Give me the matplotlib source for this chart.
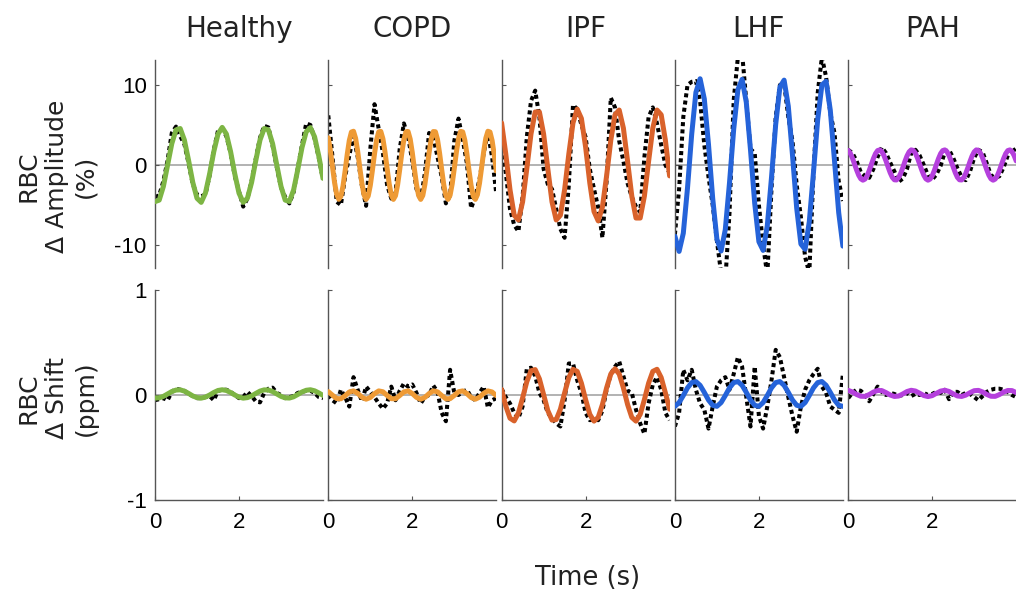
import numpy as np
import matplotlib
matplotlib.use("Agg")
import matplotlib.pyplot as plt

# ---------------- data ----------------
groups = ["Healthy", "COPD", "IPF", "LHF", "PAH"]
colors = ["#7db544", "#ee9a35", "#d9622b", "#2563d9", "#b540dd"]

# RBC amplitude (%) : fitted curves
healthy_amp_fit = [-4.58, -4.39, -2.67, 0.00, 2.67, 4.39, 4.56, 3.12, 0.56, -2.18,
                   -4.16, -4.67, -3.52, -1.12, 1.67, 3.87, 4.70, 3.87, 1.67, -1.12,
                   -3.52, -4.67, -4.16, -2.18, 0.56, 3.12, 4.56, 4.39, 2.67, 0.00,
                   -2.67, -4.39, -4.56, -3.12, -0.56, 2.18, 4.16, 4.67, 3.52, 1.12,
                   -1.67]
copd_amp_fit = [3.40, 1.78, -0.25, -2.22, -3.69, -4.29, -3.91, -2.63, -0.75, 1.31,
                3.07, 4.12, 4.22, 3.35, 1.70, -0.33, -2.29, -3.72, -4.30, -3.88,
                -2.56, -0.67, 1.39, 3.13, 4.14, 4.20, 3.29, 1.63, -0.42, -2.36,
                -3.77, -4.30, -3.84, -2.49, -0.58, 1.47, 3.19, 4.16, 4.18, 3.24,
                1.55, -0.50, -2.43, -3.81, -4.30, -3.81, -2.43, -0.50, 1.55, 3.24,
                4.18, 4.16, 3.19, 1.47, -0.58, -2.49, -3.84, -4.30, -3.77, -2.36,
                -0.42, 1.63, 3.29, 4.20, 4.14, 3.13, 1.39, -0.67, -2.56, -3.88,
                -4.30, -3.72, -2.29, -0.33, 1.70, 3.35, 4.22, 4.12, 3.07, 1.31,
                -0.75]
ipf_amp_fit = [5.26, 1.36, -3.09, -6.28, -6.87, -4.61, -0.46, 3.89, 6.63, 6.63,
               3.89, -0.46, -4.61, -6.87, -6.28, -3.09, 1.36, 5.26, 6.99, 5.82,
               2.25, -2.25, -5.82, -6.99, -5.26, -1.36, 3.09, 6.28, 6.87, 4.61,
               0.46, -3.89, -6.63, -6.63, -3.89, 0.46, 4.61, 6.87, 6.28, 3.09,
               -1.36]
lhf_amp_fit = [-8.90, -10.80, -8.53, -2.88, 3.85, 9.08, 10.78, 8.27, 2.56, -4.17,
               -9.27, -10.75, -8.07, -2.23, 4.47, 9.42, 10.71, 7.83, 1.89, -4.78,
               -9.59, -10.67, -7.58, -1.56, 5.08, 9.74, 10.61, 7.34, 1.22, -5.40,
               -9.88, -10.54, -7.08, -0.88, 5.69, 10.01, 10.46, 6.84, 0.54, -5.95,
               -10.14]
pah_amp_fit = [1.82, 1.47, 0.87, 0.13, -0.62, -1.28, -1.73, -1.90, -1.76, -1.34,
               -0.70, 0.06, 0.80, 1.42, 1.80, 1.89, 1.68, 1.19, 0.51, -0.25,
               -0.97, -1.54, -1.85, -1.87, -1.58, -1.04, -0.33, 0.44, 1.13, 1.64,
               1.89, 1.82, 1.47, 0.87, 0.13, -0.62, -1.28, -1.73, -1.90, -1.76,
               -1.34, -0.70, 0.06, 0.80, 1.42, 1.80, 1.89, 1.68, 1.19, 0.51,
               -0.25, -0.97, -1.54, -1.85, -1.87, -1.58, -1.04, -0.33, 0.44, 1.13,
               1.64, 1.89, 1.82, 1.47, 0.87, 0.13, -0.62, -1.28, -1.73, -1.90,
               -1.76, -1.34, -0.70, 0.06, 0.80, 1.42, 1.80, 1.89, 1.68, 1.19,
               0.51]

# RBC amplitude (%) : measured data (dotted)
healthy_amp_data = [-4.0, -3.8, -2.0, 0.6, 4.0, 4.8, 3.6, 2.6, 0.2, -2.4,
                    -3.7, -3.9, -3.7, -1.3, 1.9, 4.3, 4.5, 3.6, 1.5, -1.4,
                    -3.3, -5.2, -4.2, -2.0, 0.8, 3.4, 4.9, 4.7, 2.4, -0.3,
                    -2.8, -4.0, -4.8, -3.4, -0.4, 2.5, 5.2, 5.0, 3.3, 0.9,
                    -1.8]
copd_amp_data = [6.2, 1.0, -4.6, -5.0, -1.5, 1.2, 3.6, 1.0, -2.6, -5.1,
                 2.0, 7.6, 4.5, 1.5, -2.5, -4.2, -3.5, 2.0, 5.2, 3.5,
                 0.5, -3.0, -4.4, -1.0, 4.0, 3.5, 1.0, -1.5, -4.8, -3.8,
                 3.0, 5.8, 3.2, 0.2, -5.4, -4.0, -1.8, 1.5, 4.0, 1.0,
                 -3.6]
ipf_amp_data = [3.0, -1.0, -5.5, -7.5, -8.3, -4.0, 3.5, 8.0, 9.3, 6.0,
                -0.5, -2.4, -3.0, -5.5, -8.0, -9.1, -2.5, 7.5, 7.0, 5.0,
                3.5, -0.5, -3.0, -5.3, -9.1, -2.0, 8.4, 7.2, 3.0, 0.5,
                -2.3, -4.0, -5.2, -5.9, 1.0, 6.0, 7.2, 5.2, 2.5, 0.0,
                -1.0]
lhf_amp_data = [-8.7, -3.0, 6.0, 10.0, 10.4, 10.5, 8.0, 2.5, -1.5, -5.0,
                -9.5, -13.5, -14.5, -6.0, 8.1, 13.5, 14.0, 8.0, 2.0, 1.5,
                -5.0, -10.0, -13.8, -3.0, 6.0, 10.0, 10.2, 6.0, 3.0, -2.5,
                -6.5, -11.5, -13.5, -1.0, 9.0, 13.5, 11.0, 6.5, 4.0, -2.0,
                -4.5]
pah_amp_data = [1.9, 1.5, 0.5, -0.9, -1.4, -1.6, -0.5, 1.0, 2.2, 1.5,
                0.3, -0.8, -2.1, -1.7, -0.5, 1.5, 1.9, 1.2, 0.0, -1.3,
                -1.8, -1.2, -0.1, 1.6, 1.9, 0.9, -0.4, -1.5, -1.9, -0.8,
                0.9, 1.9, 1.6, 0.2, -1.3, -1.6, -1.4, -0.3, 1.2, 2.2,
                1.5]

# RBC shift (ppm) : fitted curves
healthy_shift_fit = [-0.029, -0.027, -0.013, 0.010, 0.033, 0.047, 0.049, 0.037, 0.015, -0.009,
                     -0.025, -0.030, -0.020, 0.000, 0.024, 0.043, 0.050, 0.043, 0.024, 0.000,
                     -0.020, -0.030, -0.025, -0.009, 0.015, 0.037, 0.049, 0.047, 0.033, 0.010,
                     -0.013, -0.027, -0.029, -0.017, 0.005, 0.029, 0.045, 0.050, 0.040, 0.020,
                     -0.004]
copd_shift_fit = [0.032, -0.002, -0.034, -0.036, -0.007, 0.029, 0.039, 0.016, -0.021, -0.040,
                  -0.024, 0.013, 0.039, 0.031, -0.004, -0.035, -0.036, -0.005, 0.030, 0.039,
                  0.014, -0.023, -0.040, -0.023, 0.014, 0.039, 0.030, -0.005, -0.036, -0.035,
                  -0.004, 0.031, 0.039, 0.013, -0.024, -0.040, -0.021, 0.016, 0.039, 0.029,
                  -0.007]
ipf_shift_fit = [0.052, -0.106, -0.221, -0.247, -0.172, -0.028, 0.127, 0.231, 0.242, 0.154,
                 0.004, -0.148, -0.239, -0.234, -0.135, 0.020, 0.166, 0.245, 0.225, 0.113,
                 -0.044, -0.184, -0.249, -0.213, -0.091, 0.068, 0.200, 0.250, 0.200, 0.068,
                 -0.091, -0.213, -0.249, -0.184, -0.044, 0.113, 0.225, 0.245, 0.166, 0.020,
                 -0.135]
lhf_shift_fit = [-0.108, -0.072, -0.005, 0.068, 0.118, 0.128, 0.092, 0.025, -0.048, -0.098,
                 -0.108, -0.072, -0.005, 0.068, 0.118, 0.128, 0.092, 0.025, -0.048, -0.098,
                 -0.108, -0.072, -0.005, 0.068, 0.118, 0.128, 0.092, 0.025, -0.048, -0.098,
                 -0.108, -0.072, -0.005, 0.068, 0.118, 0.128, 0.092, 0.025, -0.048, -0.098,
                 -0.108]
pah_shift_fit = [0.044, 0.029, 0.005, -0.012, -0.013, 0.004, 0.028, 0.043, 0.042, 0.023,
                 0.000, -0.014, -0.010, 0.010, 0.033, 0.045, 0.038, 0.017, -0.005, -0.015,
                 -0.006, 0.016, 0.037, 0.045, 0.034, 0.011, -0.009, -0.014, -0.001, 0.022,
                 0.041, 0.044, 0.029, 0.005, -0.012, -0.013, 0.004, 0.028, 0.043, 0.042,
                 0.023]

# RBC shift (ppm) : measured data (dotted)
healthy_shift_data = [-0.05, -0.04, -0.03, -0.05, 0.03, 0.06, 0.05, 0.04, 0.01, -0.01,
                      -0.03, -0.03, -0.02, -0.01, -0.05, 0.04, 0.05, 0.05, 0.03, 0.00,
                      -0.03, -0.02, 0.03, -0.01, -0.06, -0.07, 0.02, 0.06, 0.07, 0.02,
                      0.00, -0.03, -0.02, -0.01, 0.02, 0.03, 0.04, 0.04, 0.02, -0.02,
                      -0.03]
copd_shift_data = [0.00, -0.05, -0.08, 0.05, -0.02, -0.11, 0.17, 0.05, -0.06, 0.08,
                   0.03, -0.02, -0.08, -0.13, -0.08, 0.08, -0.05, 0.04, 0.11, 0.08,
                   0.10, 0.02, -0.08, -0.02, 0.00, 0.09, 0.03, -0.17, -0.25, 0.24,
                   0.02, 0.00, 0.03, 0.05, -0.02, -0.05, 0.02, 0.08, -0.12, -0.05,
                   -0.03]
ipf_shift_data = [0.06, -0.02, -0.08, -0.17, -0.22, -0.11, 0.25, 0.26, 0.18, 0.02,
                  -0.05, -0.17, -0.22, -0.27, -0.30, -0.05, 0.30, 0.30, 0.14, 0.02,
                  -0.17, -0.24, -0.23, -0.24, -0.15, 0.05, 0.20, 0.27, 0.32, 0.18,
                  0.04, 0.02, -0.14, -0.27, -0.37, -0.08, 0.10, 0.17, 0.05, -0.17,
                  -0.24]
lhf_shift_data = [-0.30, -0.17, 0.24, 0.14, 0.24, 0.05, -0.08, -0.14, -0.32, -0.11,
                  0.08, 0.14, 0.17, 0.05, 0.20, 0.36, 0.27, -0.02, -0.30, 0.27,
                  -0.20, -0.32, -0.11, 0.14, 0.43, 0.36, 0.17, -0.02, -0.20, -0.35,
                  -0.11, 0.05, 0.14, 0.20, 0.25, 0.08, 0.02, -0.11, -0.14, -0.17,
                  0.20]
pah_shift_data = [-0.03, 0.02, 0.05, 0.04, 0.00, -0.06, 0.01, 0.08, 0.03, 0.00,
                  0.02, 0.01, -0.01, 0.00, 0.02, -0.01, 0.01, 0.00, 0.02, 0.00,
                  0.01, 0.03, 0.02, 0.05, -0.04, 0.03, 0.03, 0.00, 0.02, 0.01,
                  -0.02, -0.05, -0.01, 0.03, 0.05, 0.06, 0.06, 0.05, 0.03, 0.00,
                  -0.02]

amp_fits = [healthy_amp_fit, copd_amp_fit, ipf_amp_fit, lhf_amp_fit, pah_amp_fit]
amp_data = [healthy_amp_data, copd_amp_data, ipf_amp_data, lhf_amp_data, pah_amp_data]
shift_fits = [healthy_shift_fit, copd_shift_fit, ipf_shift_fit, lhf_shift_fit, pah_shift_fit]
shift_data = [healthy_shift_data, copd_shift_data, ipf_shift_data, lhf_shift_data, pah_shift_data]

amp_ticks = [-10, 0, 10]
shift_ticks = [-1, 0, 1]
time_ticks = [0, 2]
T_END = 4.0

# ---------------- figure ----------------
W, H = 1016, 598
fig = plt.figure(figsize=(W / 100, H / 100), dpi=100)

TITLE_FONT = "DejaVu Sans"
TICK_FONT = "Liberation Sans"
SPINE_C = "#555555"
TEXT_C = "#222222"

def tvec(arr):
    return np.linspace(0, T_END, len(arr))

def style(ax, ticks, ylim, first, bottom_row):
    ax.set_xlim(0, T_END)
    ax.set_ylim(*ylim)
    for s in ["top", "right"]:
        ax.spines[s].set_visible(False)
    ax.spines["left"].set_color(SPINE_C)
    ax.spines["left"].set_linewidth(1.0)
    if bottom_row:
        ax.spines["bottom"].set_color(SPINE_C)
        ax.spines["bottom"].set_linewidth(1.0)
        ax.set_xticks(time_ticks)
        ax.set_xticklabels([str(v) for v in time_ticks], fontsize=16, family=TICK_FONT)
        ax.tick_params(axis="x", direction="in", length=3, pad=9, color=SPINE_C)
    else:
        ax.spines["bottom"].set_visible(False)
        ax.set_xticks([])
    ax.set_yticks(ticks)
    if first:
        ax.set_yticklabels([str(v) for v in ticks], fontsize=16, family=TICK_FONT)
    else:
        ax.set_yticklabels([])
    ax.tick_params(axis="y", direction="in", length=3, pad=6, color=SPINE_C)
    ax.set_facecolor("none")
    ax.axhline(0, color="#a5a5a5", lw=1.2, zorder=1)

panel_w = 168
step = 173.3
for i, g in enumerate(groups):
    left = 155 + step * i
    axt = fig.add_axes([left / W, 1 - 268 / H, panel_w / W, 208 / H])
    axb = fig.add_axes([left / W, 1 - 500 / H, panel_w / W, 210 / H])
    style(axt, amp_ticks, (-12.875, 13.125), i == 0, False)
    style(axb, shift_ticks, (-1, 1), i == 0, True)

    axt.plot(tvec(amp_data[i]), amp_data[i], color="black", lw=2.9,
             linestyle=(0, (1, 0.8)), zorder=2)
    axt.plot(tvec(amp_fits[i]), amp_fits[i], color=colors[i], lw=3.6,
             solid_joinstyle="round", solid_capstyle="round", zorder=3)
    axb.plot(tvec(shift_data[i]), shift_data[i], color="black", lw=2.9,
             linestyle=(0, (1, 0.8)), zorder=2)
    axb.plot(tvec(shift_fits[i]), shift_fits[i], color=colors[i], lw=3.6,
             solid_joinstyle="round", solid_capstyle="round", zorder=3)

    fig.text((left + panel_w / 2) / W, 1 - 37 / H, g, ha="center", va="baseline",
             fontsize=20, family=TITLE_FONT, color=TEXT_C)

fig.text(57 / W, 1 - 176 / H, "RBC\n\u0394 Amplitude\n(%)", rotation=90,
         ha="center", va="center", multialignment="center", fontsize=18,
         family=TITLE_FONT, linespacing=1.25, color=TEXT_C)
fig.text(57 / W, 1 - 398 / H, "RBC\n\u0394 Shift\n(ppm)", rotation=90,
         ha="center", va="center", multialignment="center", fontsize=18,
         family=TITLE_FONT, linespacing=1.25, color=TEXT_C)
fig.text(588 / W, 1 - 578 / H, "Time (s)", ha="center", va="center",
         fontsize=18.5, family=TITLE_FONT, color=TEXT_C)

fig.savefig("out.png", dpi=100, facecolor="white")
